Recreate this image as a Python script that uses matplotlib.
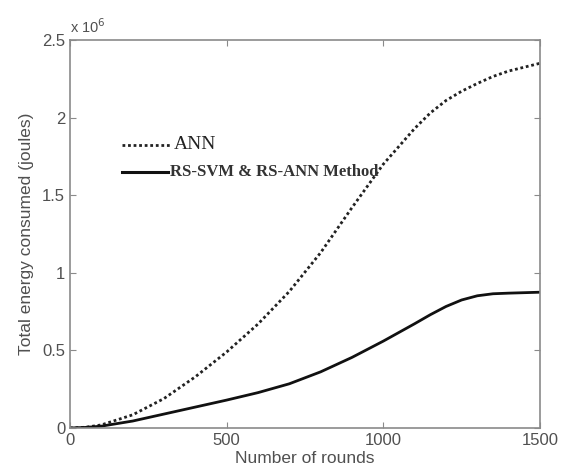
import matplotlib.pyplot as plt
from matplotlib.lines import Line2D

rounds = [0, 50, 100, 200, 300, 400, 500, 600, 700, 800, 900, 1000, 1100,
          1150, 1200, 1250, 1300, 1350, 1400, 1500]
ann_energy = [0, 0.005, 0.02, 0.085, 0.19, 0.33, 0.49, 0.67, 0.88, 1.13, 1.42,
              1.70, 1.93, 2.03, 2.11, 2.17, 2.22, 2.265, 2.30, 2.35]
rs_energy = [0, 0.004, 0.012, 0.045, 0.09, 0.135, 0.18, 0.228, 0.285, 0.362,
             0.455, 0.56, 0.672, 0.73, 0.783, 0.825, 0.852, 0.865, 0.869, 0.875]

x_ticks = [0, 500, 1000, 1500]
y_ticks = [0, 0.5, 1, 1.5, 2, 2.5]
y_ticklabels = ["0", "0.5", "1", "1.5", "2", "2.5"]

axis_grey = "#8a8a8a"
text_grey = "#505050"
plt.rcParams["font.family"] = ["Liberation Sans", "DejaVu Sans"]

fig = plt.figure(figsize=(5.66, 4.74), dpi=100)
ax = fig.add_axes([0.1237, 0.097, 0.954 - 0.1237, 0.9156 - 0.097])

ax.plot(rounds, ann_energy, color="#222222", linestyle=(0, (1, 1)), linewidth=2.0)
ax.plot(rounds, rs_energy, color="#111111", linestyle="-", linewidth=2.0)

ax.set_xlim(0, 1500)
ax.set_ylim(0, 2.5)
ax.set_xticks(x_ticks)
ax.set_yticks(y_ticks)
ax.set_yticklabels(y_ticklabels)
ax.tick_params(direction="in", length=4, width=0.8, colors=axis_grey,
               labelcolor=text_grey, labelsize=12, top=True, right=True)
for spine in ax.spines.values():
    spine.set_color(axis_grey)
    spine.set_linewidth(1.2)

ax.set_xlabel("Number of rounds", fontsize=12.5, color=text_grey, labelpad=2)
ax.set_ylabel("Total energy consumed (joules)", fontsize=12.5, color=text_grey, labelpad=6)
ax.text(0.0, 1.01, r"x 10$^6$", transform=ax.transAxes, fontsize=10.5,
        color=text_grey, ha="left", va="bottom")

# legend drawn as loose marks and text, no frame
fig.add_artist(Line2D([122 / 566, 170 / 566], [1 - 145 / 474, 1 - 145 / 474],
                      color="#222222", linestyle=(0, (1, 1)), linewidth=2.0))
fig.add_artist(Line2D([122 / 566, 168 / 566], [1 - 172 / 474, 1 - 172 / 474],
                      color="#111111", linewidth=2.2))
fig.text(174 / 566, 1 - 145 / 474, "ANN", family="Liberation Serif",
         fontsize=14, color="#222222", va="center", ha="left")
fig.text(170 / 566, 1 - 172 / 474, "RS-SVM & RS-ANN Method", family="Liberation Serif",
         fontsize=12, fontweight="bold", color="#333333", va="center", ha="left")

fig.savefig("out.png", dpi=100)
